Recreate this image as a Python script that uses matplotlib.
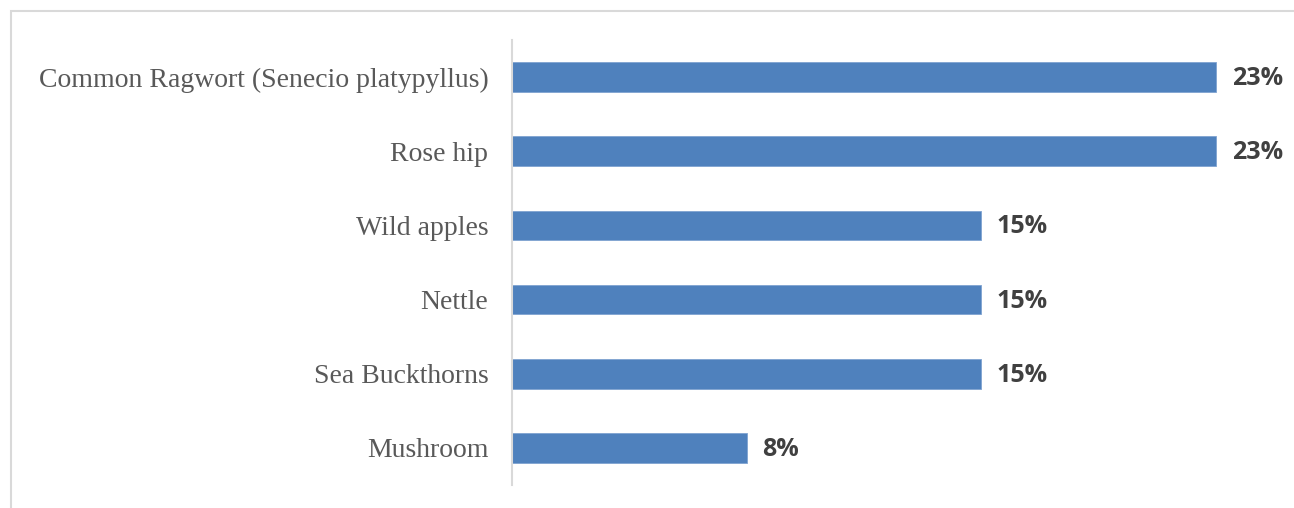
import matplotlib
matplotlib.use('Agg')
import matplotlib.pyplot as plt
from matplotlib.patches import Rectangle

# data (shares of 13 answers)
categories = ['Common Ragwort (Senecio platypyllus)', 'Rose hip', 'Wild apples',
              'Nettle', 'Sea Buckthorns', 'Mushroom']
values = [23.08, 23.08, 15.38, 15.38, 15.38, 7.69]
value_labels = ['23%', '23%', '15%', '15%', '15%', '8%']

W, H = 1294, 508
fig = plt.figure(figsize=(W / 100, H / 100), dpi=100)

# light border of the chart area (cropped at right and bottom)
fig.patches.append(Rectangle((11 / W, -0.1), 1.2, 1 - 11 / H + 0.1, transform=fig.transFigure,
                             fill=False, edgecolor='#D9D9D9', linewidth=1.5))

ax = fig.add_axes([512 / W, 1 - 485 / H, (1275 - 512) / W, (485 - 40) / H])

y = list(range(len(categories)))
ax.barh(y, values, height=0.4, color='#4F81BD', edgecolor='#7FA3D1', linewidth=0.6)
ax.set_ylim(len(categories) - 0.5, -0.5)
ax.set_xlim(0, 25)

for yi, v, lab in zip(y, values, value_labels):
    ax.text(v + 0.5, yi + 0.02, lab, va='center', ha='left', fontsize=18,
            fontweight='bold', color='#404040', family='Open Sans')

ax.set_yticks(y)
ax.set_yticklabels(categories, family='Liberation Serif', fontsize=20, color='#595959')
ax.tick_params(axis='y', length=0, pad=17)
ax.set_xticks([])
for s in ['top', 'right', 'bottom']:
    ax.spines[s].set_visible(False)
ax.spines['left'].set_color('#D9D9D9')
ax.spines['left'].set_linewidth(1.5)

fig.savefig('out.png', dpi=100)
